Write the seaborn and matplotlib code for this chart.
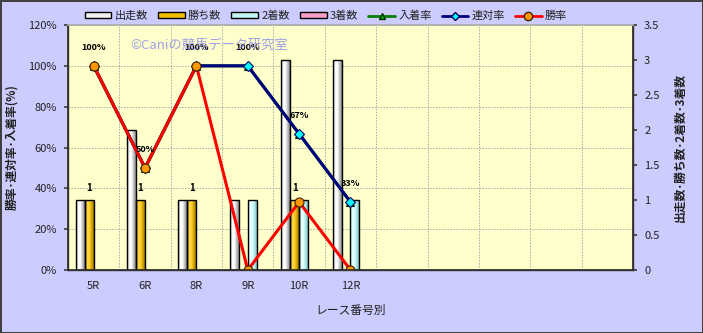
import numpy as np
import pandas as pd
import matplotlib
matplotlib.use("Agg")
import matplotlib.pyplot as plt
import seaborn as sns
from matplotlib.patches import Patch
from matplotlib.lines import Line2D
from matplotlib.colors import LinearSegmentedColormap

# ---------------- data ----------------
races = ["5R", "6R", "8R", "9R", "10R", "12R"]
n_empty = 5
starts = [1, 2, 1, 1, 3, 3]        # 出走数
wins = [1, 1, 1, 0, 1, 0]          # 勝ち数
seconds = [0, 0, 0, 1, 1, 1]       # 2着数
thirds = [0, 0, 0, 0, 0, 0]        # 3着数
win_rate = [100, 50, 100, 0, 33.3, 0]          # 勝率
rentai_rate = [100, 50, 100, 100, 66.7, 33.3]  # 連対率
place_rate = [100, 50, 100, 100, 66.7, 33.3]   # 入着率
pct_labels = ["100%", "50%", "100%", "100%", "67%", "33%"]
count_names = ["出走数", "勝ち数", "2着数", "3着数"]
pct_ticks = [0, 20, 40, 60, 80, 100, 120]
pct_ticklabels = ["0%", "20%", "40%", "60%", "80%", "100%", "120%"]
count_ticks = [0, 0.5, 1, 1.5, 2, 2.5, 3, 3.5]
count_ticklabels = ["0", "0.5", "1", "1.5", "2", "2.5", "3", "3.5"]

# ---------------- style ----------------
sns.set_theme(style="white")
plt.rcParams["font.family"] = ["Noto Sans CJK JP", "DejaVu Sans"]
FIG_BG = "#CCCCFF"
PLOT_BG = "#FFFFCC"
TXT = "#222222"

fig = plt.figure(figsize=(7.03, 3.33), dpi=100, facecolor=FIG_BG,
                 edgecolor="#404040", linewidth=2)
ax = fig.add_axes([68 / 703, 63 / 333, 565 / 703, 245 / 333])
ax.set_facecolor(PLOT_BG)

order = races + [" " * (i + 1) for i in range(n_empty)]
n_slots = len(order)

df = pd.DataFrame({
    "race": races * 4,
    "kind": np.repeat(count_names, len(races)),
    "count": starts + wins + seconds + thirds,
})
df = df[df["count"] > 0]

face = {"出走数": "#F2F2F2", "勝ち数": "#F0C000", "2着数": "#C4F4F4", "3着数": "#F4A0C8"}
grad_cols = {
    "出走数": ["#A0A0A0", "#FFFFFF", "#FFFFFF", "#C0C0C0", "#8A8A8A"],
    "勝ち数": ["#B08800", "#FFD84A", "#FFD030", "#D8A800", "#A07800"],
    "2着数": ["#90D0D0", "#EAFFFF", "#DDFFFF", "#AEE6E6", "#80C0C0"],
    "3着数": ["#C06090", "#FFD0E8", "#FFC0E0", "#E090B8", "#B05080"],
}

sns.barplot(data=df, x="race", y="count", hue="kind", order=order,
            hue_order=count_names, palette=face, width=0.7, saturation=1,
            edgecolor="black", linewidth=1.0, errorbar=None, legend=False, ax=ax)

# gradient fill for bars
win_container = None
for cont in ax.containers:
    lab = cont.get_label()
    kind = lab if lab in grad_cols else None
    if kind is None:
        fc = cont.patches[0].get_facecolor() if len(cont.patches) else None
        for k, v in face.items():
            if fc is not None and np.allclose(matplotlib.colors.to_rgba(v), fc, atol=0.02):
                kind = k
    if kind == "勝ち数":
        win_container = cont
    if kind is None:
        continue
    cmap = LinearSegmentedColormap.from_list(kind, grad_cols[kind])
    for p in cont.patches:
        if p.get_height() <= 0:
            continue
        x0, w = p.get_x(), p.get_width()
        y0, h = p.get_y(), p.get_height()
        im = ax.imshow(np.linspace(0, 1, 64)[None, :], extent=[x0, x0 + w, y0, y0 + h],
                       aspect="auto", cmap=cmap, origin="lower", interpolation="bilinear",
                       zorder=p.get_zorder() + 0.01)
        im.set_clip_path(p)
        p.set_facecolor("none")
        p.set_zorder(p.get_zorder() + 0.02)

ax.set_xlim(-0.5, n_slots - 0.5)
ax.set_ylim(0, 3.5)

# count labels on win bars
if win_container is not None:
    ax.bar_label(win_container, labels=[str(int(v)) for v in wins if v > 0],
                 padding=5, fontsize=7, fontweight="bold", color="black")

# x axis
ax.set_xticks(np.arange(n_slots))
ax.set_xticklabels(races + [""] * n_empty)
ax.set_xticks(np.arange(n_slots - 1) + 0.5, minor=True)
ax.tick_params(axis="x", which="major", length=0, pad=8, labelsize=8, labelcolor=TXT)
ax.tick_params(axis="x", which="minor", length=3, direction="in", color="#808080")
ax.set_xlabel("レース番号別", fontsize=8.5, color=TXT, labelpad=9)

# left axis (percent) on a twin, lines drawn above the bars
ax2 = ax.twinx()
ax2.set_ylim(0, 120)
ax2.yaxis.tick_left()
ax2.yaxis.set_label_position("left")
ax2.set_yticks(pct_ticks)
ax2.set_yticklabels(pct_ticklabels)
ax2.tick_params(axis="y", left=True, right=False, labelleft=True, labelright=False,
                length=3, direction="out", pad=5, labelsize=8, labelcolor=TXT, color="#404040")
ax2.grid(False)
for s in ["left", "right", "bottom"]:
    ax2.spines[s].set_color("#303030")
ax2.spines["top"].set_color("#B0B0B0")
ax2.set_ylabel("勝率･連対率･入着率(%)", fontsize=8.5, fontweight="bold",
               color=TXT, labelpad=7)

# right axis (counts) belongs to ax  (after twinx, which resets ticks)
ax.yaxis.tick_right()
ax.yaxis.set_label_position("right")
ax.set_yticks(count_ticks)
ax.set_yticklabels(count_ticklabels)
ax.set_yticks(np.array(pct_ticks) * 3.5 / 120, minor=True)
ax.tick_params(axis="y", which="major", left=False, right=True, labelleft=False,
               labelright=True, length=3, direction="out",
               pad=5, labelsize=8, labelcolor=TXT, color="#404040")
ax.tick_params(axis="y", which="minor", left=False, right=False, length=0)
ax.grid(which="minor", axis="both", color="#A8A8A8", linestyle=(0, (1.5, 1.5)), linewidth=0.7)
ax.grid(which="major", visible=False)
ax.set_axisbelow(True)
ax.set_ylabel("出走数･勝ち数･2着数･3着数", fontsize=8.5, fontweight="bold",
              color=TXT, labelpad=10)
for s in ["left", "right", "bottom"]:
    ax.spines[s].set_color("#303030")
    ax.spines[s].set_linewidth(1.0)
ax.spines["top"].set_color("#B0B0B0")

xpos = np.arange(len(races))
sns.lineplot(x=xpos, y=place_rate, ax=ax2, color="#008000", linewidth=2.2,
             marker="^", markersize=6, markerfacecolor="#00B000",
             markeredgecolor="#003000", markeredgewidth=0.8, sort=False)
sns.lineplot(x=xpos, y=rentai_rate, ax=ax2, color="#000080", linewidth=2.2,
             marker="D", markersize=5, markerfacecolor="#00FFFF",
             markeredgecolor="#000060", markeredgewidth=0.8, sort=False)
sns.lineplot(x=xpos, y=win_rate, ax=ax2, color="#FF0000", linewidth=2.2,
             marker="o", markersize=6.5, markerfacecolor="#FF9900",
             markeredgecolor="#402000", markeredgewidth=0.8, sort=False)
ax2.set_xlim(-0.5, n_slots - 0.5)
ax2.set_ylim(0, 120)

for x, y, lbl in zip(xpos, place_rate, pct_labels):
    ax2.annotate(lbl, (x, y), xytext=(0, 13), textcoords="offset points",
                 ha="center", va="center", fontsize=6.5, fontweight="bold", color="black")

# legend
handles = []
for k in count_names:
    handles.append(Patch(facecolor=face[k], edgecolor="black", linewidth=1.0, label=k))
handles.append(Line2D([], [], color="#008000", lw=2, marker="^", ms=5,
                      mfc="#00B000", mec="#003000", label="入着率"))
handles.append(Line2D([], [], color="#000080", lw=2, marker="D", ms=4.5,
                      mfc="#00FFFF", mec="#000060", label="連対率"))
handles.append(Line2D([], [], color="#FF0000", lw=2, marker="o", ms=6,
                      mfc="#FF9900", mec="#402000", label="勝率"))
fig.legend(handles=handles, loc="center", bbox_to_anchor=(326 / 703, 1 - 16 / 333),
           ncol=7, frameon=False, fontsize=8, handlelength=2.4, handleheight=0.45,
           handletextpad=0.3, columnspacing=0.9, labelcolor=TXT)

# watermark
fig.text(130 / 703, 1 - 45 / 333, "©Caniの競馬データ研究室", fontsize=9.5,
         color="#8080F0", alpha=0.75, ha="left", va="center")

fig.savefig("out.png", dpi=100, facecolor=fig.get_facecolor(),
            edgecolor=fig.get_edgecolor())
